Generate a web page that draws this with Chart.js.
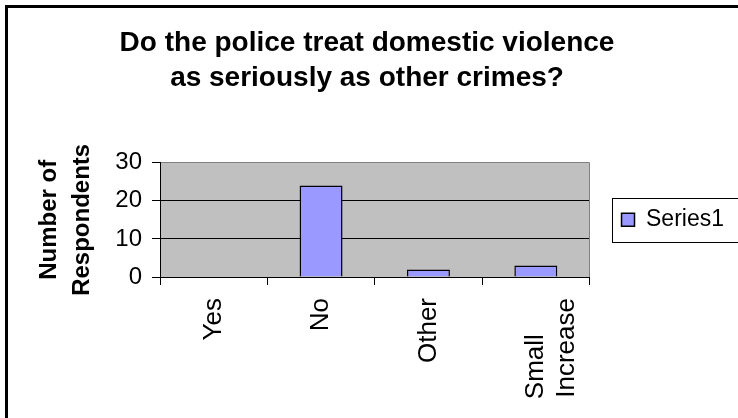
<!DOCTYPE html>
<html>
<head>
<meta charset="utf-8">
<script src="https://cdn.jsdelivr.net/npm/chart.js@4.4.1/dist/chart.umd.min.js"></script>
<style>
  html, body { margin: 0; padding: 0; background: #fff; }
  #wrap { position: relative; width: 738px; height: 418px; overflow: hidden; }
  #frame {
    position: absolute; left: 5px; top: 5px; width: 800px; height: 500px;
    border-left: 3px solid #000; border-top: 3px solid #000; pointer-events: none;
  }
  canvas { display: block; }
</style>
</head>
<body>
<div id="wrap">
  <canvas id="chart" width="738" height="418"></canvas>
  <div id="frame"></div>
</div>
<script>
// ------------------------------------------------------------
// data
// ------------------------------------------------------------
const TITLE_LINES = ['Do the police treat domestic violence', 'as seriously as other crimes?'];
// trailing spaces keep "Small" flush with the start of "Increase"
const CATEGORIES = ['Yes', 'No', 'Other', ['Small     ', 'Increase']];
const SERIES_LABEL = 'Series1';
const SERIES1 = [0, 24, 2, 3];
const Y_TICKS = [0, 10, 20, 30];
const Y_TITLE = ['Number of', 'Respondents'];

const FONT = "'Liberation Sans', Arial, Helvetica, sans-serif";
Chart.defaults.font.family = FONT;
Chart.defaults.color = '#000';

// grey plot area + its right edge (Excel style)
const plotFrame = {
  id: 'plotFrame',
  beforeDraw(chart) {
    const { ctx, chartArea: a } = chart;
    ctx.save();
    ctx.fillStyle = '#c0c0c0';
    ctx.fillRect(a.left, a.top, a.width, a.height);
    ctx.restore();
  },
  beforeDatasetsDraw(chart) {
    const { ctx, chartArea: a } = chart;
    ctx.save();
    ctx.strokeStyle = '#808080';
    ctx.lineWidth = 1;
    ctx.beginPath();
    ctx.moveTo(Math.round(a.right) - 0.5, a.top);
    ctx.lineTo(Math.round(a.right) - 0.5, a.bottom);
    ctx.stroke();
    ctx.restore();
  }
};

// box around the legend, runs off the right edge like the original
const legendFrame = {
  id: 'legendFrame',
  afterDraw(chart) {
    const lg = chart.legend;
    if (!lg || !lg.legendHitBoxes || !lg.legendHitBoxes.length) return;
    const hb = lg.legendHitBoxes[0];
    const { ctx } = chart;
    const x = Math.round(hb.left - 10) + 0.5;
    const y = Math.round(hb.top - 10.5) + 0.5;
    ctx.save();
    ctx.strokeStyle = '#000';
    ctx.lineWidth = 1;
    ctx.strokeRect(x, y, chart.width + 10 - x, hb.height + 21);
    ctx.restore();
  }
};

new Chart(document.getElementById('chart'), {
  type: 'bar',
  data: {
    labels: CATEGORIES,
    datasets: [{
      label: SERIES_LABEL,
      data: SERIES1,
      backgroundColor: '#9999ff',
      borderColor: '#000',
      borderWidth: 1.5,
      barPercentage: 0.4,
      categoryPercentage: 1,
    }]
  },
  options: {
    responsive: false,
    animation: false,
    devicePixelRatio: 1,
    layout: { padding: { left: 0, right: 4, top: 0, bottom: 0 } },
    plugins: {
      tooltip: { enabled: false },
      title: {
        display: true,
        text: TITLE_LINES,
        color: '#000',
        font: { size: 28, weight: 'bold', lineHeight: 1.28 },
        padding: { top: 25, bottom: 66 },
      },
      legend: {
        position: 'right',
        fullSize: false,
        align: 'center',
        maxWidth: 145,
        labels: {
          boxWidth: 13,
          boxHeight: 13,
          padding: 32,
          color: '#000',
          font: { size: 23 },
        },
      },
    },
    scales: {
      x: {
        offset: true,
        grid: {
          offset: true,
          drawOnChartArea: false,
          color: '#000',
          tickLength: 8,
        },
        border: { color: '#000', width: 1 },
        ticks: {
          autoSkip: false,
          minRotation: 90,
          maxRotation: 90,
          padding: 13,
          font: { size: 26 },
        },
        afterFit: s => { s.height = 141; },
      },
      y: {
        min: 0,
        max: 30,
        ticks: { stepSize: 10, padding: 10, font: { size: 24 } },
        afterBuildTicks: s => { s.ticks = Y_TICKS.map(v => ({ value: v })); },
        grid: {
          color: c => (c.tick && c.tick.value === 30 ? '#808080' : '#000'),
          tickColor: '#000',
          tickLength: 8,
          lineWidth: 1,
        },
        border: { color: '#000', width: 1 },
        title: {
          display: true,
          text: Y_TITLE,
          font: { size: 24, weight: 'bold', lineHeight: 1.375 },
          padding: { top: 32.5, bottom: 0 },
        },
        afterFit: s => { s.width = 160; },
      },
    },
  },
  plugins: [plotFrame, legendFrame],
});
</script>
</body>
</html>
